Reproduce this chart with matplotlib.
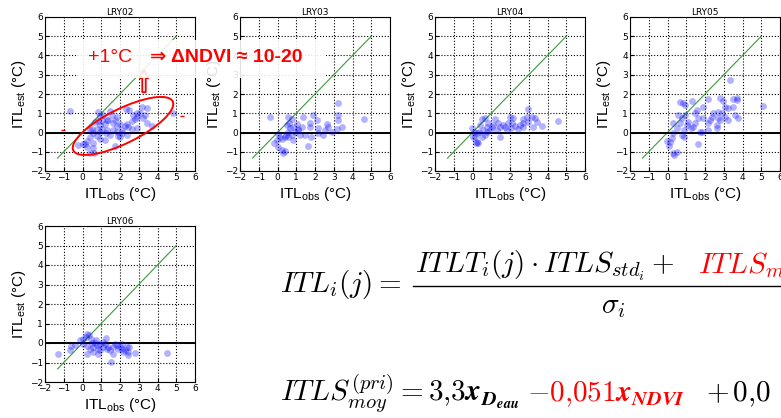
import matplotlib
matplotlib.use("Agg")
import matplotlib.pyplot as plt
from matplotlib.patches import Ellipse, Rectangle

lry02_obs = [-0.67, 0.84, 1.47, 2.32, 2.5, 2.89, 3.16, 3.42, 4.81, 0.93, 0.49, 0.76,
             0.93, 1.02, 1.2, 1.38, 1.73, 1.82, 2.0, 1.64, 1.47, 1.25, 0.93, 0.76,
             0.4, 0.26, 0.13, 0.26, 0.58, 0.4, 0.61, -0.22, 0.04, 1.73, 1.91, 2.09,
             2.36, 2.44, 2.36, 2.62, 2.68, 2.8, 2.89, 3.07, 3.24, 3.33, 3.69, 3.42,
             2.89, 2.62, 2.27, 2.09, 1.82, 1.56, 1.29, 1.11, 0.84, 1.02, 0.67, 0.4,
             0.58, 1.29, 1.6, 1.82, 2.0, 1.2, 0.93, 0.54]
lry02_est = [1.11, 1.08, 1.11, 1.2, 1.16, 1.03, 1.3, 1.25, 1.0, 0.85, 0.2, 0.2,
             0.39, 0.2, 0.44, 0.65, 0.65, 0.33, 0.44, 0.13, -0.13, -0.04, 0.01, -0.18,
             -0.22, -0.44, -0.6, -0.74, -0.53, -1.08, -1.05, -0.65, -0.61, -0.7, -0.18, -0.04,
             -0.13, 0.3, 0.44, 0.61, 0.9, 0.68, 0.82, 0.99, 0.73, 0.9, 0.33, 0.47,
             0.21, 0.16, 0.33, 0.13, 0.82, 0.9, 0.65, 0.9, 0.61, 0.65, 0.56, 0.13,
             0.0, 0.13, 0.47, 0.04, -0.22, -0.39, -0.35, -0.82]
lry02_odd_obs = [-1.02, 5.3]
lry02_odd_est = [0.13, 0.84]

lry03_obs = [-0.4, 0.54, 0.76, 1.38, 1.91, 3.24, 3.24, 3.24, 4.61, 3.42, 3.16, 2.62,
             2.71, 2.53, 2.44, 2.18, 2.09, 2.18, 1.73, 1.78, 1.64, 1.47, 1.29, 1.11,
             1.02, 0.84, 0.67, 0.58, 0.44, 0.4, 0.22, 0.13, 0.04, -0.04, -0.17, 0.04,
             0.26, 0.31, 0.4, 0.76, 0.93, 1.2, 0.84, 0.58, 1.07, 2.89, 1.73, 0.62, 0.49]
lry03_est = [0.82, 0.82, 0.68, 0.82, 0.9, 1.54, 0.9, 0.64, 0.68, 0.27, 0.16, 0.44,
             0.3, 0.13, -0.13, -0.04, 0.64, 0.21, 0.27, -0.22, -0.7, -0.13, 0.3, 0.16,
             0.44, 0.3, 0.21, 0.04, -0.13, -0.22, -0.35, -0.22, -0.08, -0.39, -0.56, -0.74,
             -0.91, -1.05, -0.95, -0.13, 0.01, -0.13, -0.39, -0.25, 0.11, 0.04, 0.47, 0.51, 0.39]

lry04_obs = [2.98, 3.33, 3.16, 3.69, 4.58, 3.24, 2.98, 2.71, 2.71, 2.53, 2.44, 2.27,
             2.18, 2.0, 2.09, 2.04, 1.82, 1.64, 1.47, 1.38, 1.2, 1.11, 1.29, 1.47,
             0.93, 1.02, 0.84, 0.76, 0.67, 0.49, 0.4, 0.54, 0.67, 0.76, 0.36, 0.22,
             0.13, 0.0, -0.04, 0.09, 0.26, 0.31, 0.18, 0.49, 1.73, 2.67, 3.42, 2.89, 1.91]
lry04_est = [1.2, 0.73, 0.82, 0.33, 0.61, 0.3, 0.56, 0.47, 0.68, 0.39, 0.16, 0.33,
             0.73, 0.78, 0.47, 0.21, 0.13, 0.39, 0.3, 0.47, 0.68, 0.39, 0.13, -0.25,
             0.13, 0.27, 0.47, 0.3, 0.73, 0.68, 0.39, 0.13, -0.13, 0.04, 0.04, -0.04,
             -0.22, -0.25, 0.21, 0.04, -0.48, -0.56, -0.53, -0.22, 0.3, 0.3, 0.56, 0.82, 0.51]

lry05_obs = [3.33, 5.11, 3.69, 3.73, 3.51, 2.8, 2.98, 2.18, 1.29, 0.67, 0.84, 0.93,
             1.56, 1.47, 1.91, 2.44, 2.71, 2.89, 3.07, 3.24, 3.51, 3.6, 3.78, 3.07,
             2.8, 2.36, 2.27, 2.18, 1.91, 1.64, 1.47, 1.38, 1.11, 0.93, 0.76, 0.67,
             0.49, 0.31, 0.58, 0.9, 1.02, 0.76, 0.9, 0.31, 0.26, 0.13, -0.04, 0.09,
             0.31, 0.36, 0.49, 1.64, 1.73, 1.82, 2.18, 2.62, 2.71, 3.24, 2.62, 1.25]
lry05_est = [2.75, 1.4, 1.77, 1.68, 1.72, 1.77, 1.64, 1.72, 1.64, 1.6, 1.54, 1.42,
             1.16, 0.99, 1.33, 0.99, 1.08, 0.99, 1.33, 1.25, 1.33, 0.9, 0.73, 0.82,
             0.64, 0.82, 0.64, 0.47, 0.73, 0.73, 0.47, 0.27, 0.56, 0.9, 0.73, 0.47,
             0.21, 0.47, 0.9, 0.13, 0.39, -0.13, -0.25, -0.04, -0.3, -0.48, -0.43, -0.7,
             -1.05, -1.17, -0.99, -0.6, 0.01, 0.04, 0.13, 0.39, 0.73, 0.64, 0.21, 0.21]

lry06_obs = [-1.32, -0.61, -0.67, -0.4, -0.13, 0.0, 0.04, 0.18, 0.26, 0.36, 0.44, 0.49,
             0.26, 0.4, 0.22, 0.58, 0.67, 0.76, 0.84, 0.8, 0.93, 1.11, 1.2, 1.25,
             1.38, 1.47, 1.6, 1.51, 1.64, 1.73, 1.91, 2.0, 2.13, 2.27, 2.36, 2.49,
             2.44, 2.8, 2.44, 1.07, 0.93, 0.58, 1.82, 1.29, 4.52, 2.09, 2.18, 0.71]
lry06_est = [-0.55, -0.14, -0.38, -0.12, 0.17, -0.03, 0.22, 0.31, 0.48, 0.39, 0.22, 0.0,
             -0.17, -0.29, -0.55, -0.21, 0.0, -0.12, -0.29, -0.55, -0.38, -0.21, -0.03, 0.27,
             -0.21, -0.38, -0.21, -0.97, -0.55, -0.03, -0.29, -0.21, -0.29, -0.38, -0.21, -0.21,
             -0.6, -0.5, -0.46, 0.05, -0.03, -0.46, -0.12, -0.29, -0.5, -0.03, -0.46, 0.14]

stations = ["LRY02", "LRY03", "LRY04", "LRY05", "LRY06"]
obs = [lry02_obs, lry03_obs, lry04_obs, lry05_obs, lry06_obs]
est = [lry02_est, lry03_est, lry04_est, lry05_est, lry06_est]
ticks = [-2, -1, 0, 1, 2, 3, 4, 5, 6]
one_to_one = [-1.33, 5.0]

W, H = 781, 418
fig = plt.figure(figsize=(W / 100, H / 100), dpi=100)

# axes boxes in pixels: left, top, width, height
boxes = [(45, 17, 150, 154), (240, 17, 150, 154), (435, 17, 150, 154),
         (630, 17, 150, 154), (45, 226, 150, 156)]

lab_font = dict(family="Liberation Sans", fontsize=11, math_fontfamily="dejavusans")
axes = []
for name, xo, yo, (l, t, w, h) in zip(stations, obs, est, boxes):
    ax = fig.add_axes([l / W, 1 - (t + h) / H, w / W, h / H])
    ax.set_xlim(-2, 6); ax.set_ylim(-2, 6)
    ax.set_xticks(ticks); ax.set_yticks(ticks)
    ax.grid(True, color="black", ls=":", lw=0.8)
    ax.tick_params(direction="in", length=3, labelsize=6.5, pad=1.5)
    ax.plot(one_to_one, one_to_one, color="#3a9a3a", lw=0.8, zorder=2)
    ax.axhline(0, color="black", lw=1.4, zorder=2)
    ax.scatter(xo, yo, s=24, color="blue", alpha=0.3, lw=0, zorder=3)
    ax.set_title(name, fontsize=6.5, pad=1.5)
    ax.set_xlabel(r"ITL$_\mathregular{obs}$ (°C)", labelpad=2, **lab_font)
    ax.set_ylabel(r"ITL$_\mathregular{est}$ (°C)", labelpad=1, **lab_font)
    axes.append(ax)

ax = axes[0]
ax.scatter(lry02_odd_obs, lry02_odd_est, marker="_", s=6, color="red", lw=1, zorder=3)
ax.add_patch(Ellipse((2.16, 0.34), 5.88, 1.8, angle=25.6, fill=False,
                     ec="red", lw=1.4, zorder=4))
ax.annotate("", xy=(3.28, 3.4), xytext=(3.28, 1.95),
            arrowprops=dict(arrowstyle="simple,head_width=0.6,head_length=0.6,tail_width=0.25",
                            fc="white", ec="red", lw=1.3), zorder=4)

# highlighted statement over the first panel
fig.add_artist(Rectangle((78 / W, 1 - 78 / H), 248 / W, 38 / H, transform=fig.transFigure,
                         fc="white", ec="none", alpha=0.88, zorder=5))
fig.text(88 / W, 1 - 57 / H, "+1°C", color="red", fontsize=14, va="center",
         family=["Liberation Sans", "DejaVu Sans"], zorder=6)
fig.text(150 / W, 1 - 57 / H, "⇒ ΔNDVI ≈ 10-20", color="red", fontsize=14, va="center",
         fontweight="bold", family=["Liberation Sans", "DejaVu Sans"], zorder=6)

# equations (run off the right edge as in the slide)
eq = dict(fontsize=21, math_fontfamily="cm", va="baseline")
fig.text(280 / W, 1 - 292 / H, r"$ITL_i(j) = $", **eq)
fig.text(415 / W, 1 - 273 / H, r"$ITLT_i(j) \cdot ITLS_{std_i} +$", **eq)
fig.text(698 / W, 1 - 273 / H, r"$ITLS_{moy}$", color="red", **eq)
fig.add_artist(plt.Line2D([413 / W, 1.0], [1 - 285.7 / H] * 2, color="black", lw=1.0,
                          transform=fig.transFigure))
fig.text(613 / W, 1 - 313 / H, r"$\sigma_i$", ha="center", **eq)

fig.text(280 / W, 1 - 401 / H, r"$ITLS^{(pri)}_{moy} = 3{,}3\mathbfit{x}_{\mathbfit{D}_{\mathbfit{eau}}}$", **eq)
fig.text(527 / W, 1 - 401 / H, r"$-0{,}051\mathbfit{x}_{\mathbfit{NDVI}}$", color="red", **eq)
fig.text(706 / W, 1 - 401 / H, r"$+\,0{,}0$", **eq)

fig.savefig("out.png", dpi=100)
